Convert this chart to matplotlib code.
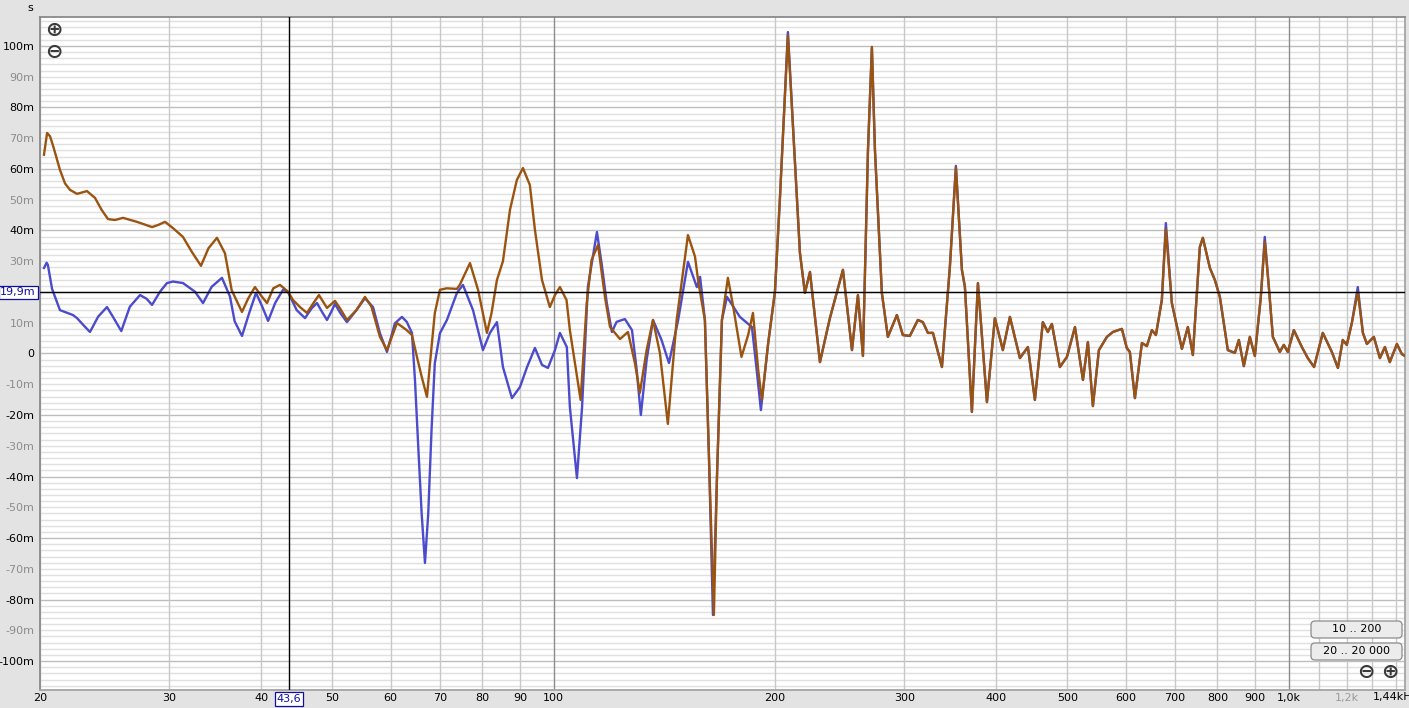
import numpy as np
import matplotlib.pyplot as plt
from matplotlib.patches import FancyBboxPatch
from matplotlib.transforms import IdentityTransform, blended_transform_factory
from matplotlib.ticker import FixedLocator, NullLocator

W, H = 1409, 708

# group delay in ms
# below 200 Hz the two traces differ
blue_lo_hz = [20.25, 20.42, 20.5, 20.77, 21.29, 21.74, 22.18, 22.46, 22.9, 23.39,
              24.0, 24.67, 25.14, 25.8, 26.5, 27.36, 27.93, 28.41, 29.13, 29.77,
              30.34, 31.3, 32.5, 33.33, 34.25, 35.37, 36.27, 36.8, 37.66, 38.5,
              39.35, 40.1, 40.87, 41.8, 42.82, 43.5, 44.7, 45.88, 46.85, 47.63,
              48.4, 49.15, 49.8, 50.39, 51.3, 52.32, 53.9, 55.36, 56.77, 58.02,
              59.31, 60.8, 62.16, 63.1, 64.14, 64.75, 65.42, 66.12, 66.81, 67.5,
              68.2, 68.9, 70.02, 71.57, 73.85, 75.25, 77.66, 80.12, 81.9, 83.71,
              85.3, 87.74, 89.97, 92.0, 94.29, 96.4, 98.21, 100.4, 101.97, 104.2,
              105.2, 107.56, 109.3, 111.3, 114.51, 116.2, 118.1, 120.0, 121.8, 125.0,
              127.8, 129.7, 131.4, 133.8, 136.5, 140.2, 143.5, 147.7, 152.3, 156.6,
              158.2, 160.6, 162.6, 164.7, 166.8, 169.4, 172.1, 179.2, 186.1, 188.9,
              191.4, 195.8, 200.0]
blue_lo_ms = [27.8, 29.5, 28.8, 21.0, 14.1, 13.3, 12.5, 11.5, 9.3, 7.0,
              12.0, 15.1, 11.9, 7.3, 15.2, 19.0, 17.8, 15.8, 20.1, 22.9,
              23.4, 22.9, 20.1, 16.4, 21.7, 24.6, 18.5, 10.5, 5.7, 13.0,
              19.7, 15.4, 10.6, 16.5, 20.7, 20.0, 14.1, 11.5, 14.7, 16.4,
              13.5, 10.9, 13.5, 16.1, 13.0, 10.2, 14.1, 18.0, 15.1, 6.6,
              0.5, 9.8, 11.9, 10.3, 6.7, -8.6, -30.3, -52.0, -68.1, -52.0,
              -24.9, -3.2, 6.6, 10.9, 19.7, 22.3, 14.1, 1.1, 6.7, 10.2,
              -4.4, -14.5, -10.9, -4.4, 1.8, -3.7, -4.7, 1.1, 6.7, 2.1,
              -17.4, -40.5, -17.4, 21.6, 39.5, 29.3, 16.4, 7.0, 10.3, 11.2,
              7.6, -5.4, -20.0, -2.1, 10.9, 4.4, -3.1, 10.9, 29.8, 21.6,
              24.9, 10.9, -32.4, -85.0, -40.0, 10.9, 18.4, 11.9, 8.6, -5.4,
              -18.4, 3.3, 20.0]

brown_lo_hz = [20.25, 20.45, 20.64, 20.85, 21.29, 21.63, 21.97, 22.46, 23.17, 23.76,
               24.26, 24.75, 25.3, 25.94, 27.1, 27.7, 28.41, 28.97, 29.59, 30.36,
               31.3, 32.17, 33.12, 33.9, 34.82, 35.7, 36.46, 37.66, 38.4, 39.22,
               39.93, 40.73, 41.54, 42.42, 43.5, 44.18, 45.16, 46.16, 47.08, 47.93,
               49.15, 50.39, 51.2, 52.32, 53.9, 55.36, 56.5, 58.02, 59.31, 61.2,
               63.1, 64.14, 65.15, 66.12, 67.23, 67.87, 68.9, 70.02, 71.5, 73.85,
               74.5, 76.93, 78.9, 81.13, 82.3, 83.71, 85.3, 87.2, 89.1, 90.82,
               92.8, 94.29, 96.4, 98.8, 100.4, 101.97, 104.1, 105.2, 108.8, 110.9,
               112.6, 114.9, 117.4, 119.3, 123.1, 126.2, 129.0, 131.0, 133.8, 136.5,
               139.5, 143.0, 147.0, 152.3, 155.7, 157.4, 160.6, 162.6, 165.2, 166.8,
               169.4, 172.6, 175.5, 180.1, 183.9, 186.7, 189.8, 192.0, 195.8, 200.0]
brown_lo_ms = [64.6, 71.7, 70.6, 67.3, 59.7, 55.3, 53.2, 51.9, 52.8, 50.6,
               46.7, 43.7, 43.4, 44.1, 42.8, 42.0, 41.1, 41.8, 42.8, 40.7,
               37.9, 33.1, 28.5, 34.2, 37.6, 32.6, 20.6, 13.5, 17.9, 21.6,
               19.0, 16.4, 21.2, 22.3, 20.1, 17.4, 15.1, 13.2, 16.3, 19.0,
               14.8, 17.1, 14.7, 10.9, 14.1, 18.4, 15.2, 5.4, 1.1, 9.9,
               7.6, 6.0, -1.1, -7.5, -14.1, -3.2, 13.1, 20.7, 21.2, 21.0,
               22.3, 29.4, 20.7, 6.7, 13.1, 23.9, 30.0, 46.7, 56.4, 60.3,
               54.8, 40.2, 23.9, 15.1, 19.0, 21.6, 17.4, 7.6, -15.1, 16.3,
               30.4, 35.3, 18.5, 8.6, 4.7, 7.0, -3.2, -12.8, 1.1, 10.9,
               0.1, -22.9, 10.9, 38.5, 31.5, 22.9, 10.9, -32.4, -85.0, -40.0,
               10.9, 24.6, 15.2, -1.1, 6.0, 13.2, -5.4, -15.1, 3.3, 20.0]

# above 200 Hz the traces sit almost on top of each other
hi_hz = [201.3, 203.1, 208.3, 214.3, 216.3, 219.7, 223.2, 230.3, 237.6, 247.5,
         254.6, 259.4, 263.5, 267.7, 271.0, 273.6, 279.6, 284.9, 293.1, 298.6,
         305.2, 313.0, 317.9, 323.0, 328.1, 337.5, 346.0, 352.6, 359.3, 362.7,
         370.7, 377.8, 388.6, 398.4, 408.5, 417.6, 430.9, 441.8, 451.6, 463.0,
         470.3, 476.3, 488.4, 499.3, 512.0, 525.0, 533.2, 541.6, 551.9, 565.9,
         576.6, 593.1, 602.3, 608.1, 617.8, 631.5, 641.4, 651.6, 659.8, 672.2,
         680.7, 693.6, 700.2, 715.8, 729.3, 740.8, 757.2, 764.4, 781.4, 793.7,
         806.2, 826.6, 845.0, 855.6, 869.0, 885.6, 899.6, 916.6, 928.0, 940.0,
         951.8, 972.8, 985.0, 997.6, 1016.5, 1042.4, 1062, 1083, 1113, 1145,
         1167, 1185, 1200, 1219, 1242, 1262, 1278, 1306, 1331, 1352,
         1373, 1404, 1426, 1440]
hi_blue_ms = [32.7, 49.9, 104.5, 49.9, 32.7, 19.7, 26.5, -2.8, 11.5, 27.2,
              1.1, 19.0, -0.8, 66.2, 99.3, 66.2, 19.7, 5.4, 12.5, 6.0,
              5.7, 10.9, 10.2, 6.7, 6.7, -4.4, 28.1, 61.0, 27.2, 21.6,
              -19.0, 22.9, -15.8, 11.5, 1.1, 11.9, -1.5, 2.1, -15.1, 10.2,
              7.0, 9.6, -4.4, -1.1, 8.6, -8.6, 3.7, -17.1, 1.1, 5.4,
              7.0, 8.0, 1.8, 0.5, -14.5, 3.4, 2.4, 7.6, 6.0, 17.4,
              42.4, 16.4, 11.9, 1.5, 8.6, -0.5, 34.6, 37.6, 27.8, 23.9,
              18.4, 1.1, 0.2, 4.4, -4.1, 5.4, -0.8, 18.4, 37.9, 21.6,
              5.4, 0.5, 2.8, 0.5, 7.6, 2.1, -1.5, -4.4, 6.7, 0.5,
              -4.7, 4.4, 2.8, 9.9, 21.6, 6.7, 3.1, 5.4, -1.5, 2.1,
              -2.8, 3.1, -0.2, -0.8]
hi_brown_ms = [32.7, 49.9, 103.4, 49.9, 32.7, 19.7, 26.5, -2.8, 11.5, 27.2,
               1.1, 19.0, -0.8, 66.2, 99.7, 66.2, 19.7, 5.4, 12.5, 6.0,
               5.7, 10.9, 10.2, 6.7, 6.7, -4.4, 28.1, 60.4, 27.2, 21.6,
               -19.0, 22.9, -15.8, 11.5, 1.1, 11.9, -1.5, 2.1, -15.1, 10.2,
               7.0, 9.6, -4.4, -1.1, 8.6, -8.6, 3.7, -17.1, 1.1, 5.4,
               7.0, 8.0, 1.8, 0.5, -14.5, 3.4, 2.4, 7.6, 6.0, 17.4,
               40.5, 16.4, 11.9, 1.5, 8.6, -0.5, 34.6, 37.6, 27.8, 23.9,
               18.4, 1.1, 0.2, 4.4, -4.1, 5.4, -0.8, 18.4, 36.3, 21.6,
               5.4, 0.5, 2.8, 0.5, 7.6, 2.1, -1.5, -4.4, 6.7, 0.5,
               -4.7, 4.4, 2.8, 9.9, 20.0, 6.7, 3.1, 5.4, -1.5, 2.1,
               -2.8, 3.1, -0.2, -0.8]

cursor_hz = 43.6
cursor_ms = 19.9

x_ticks = [20, 30, 40, 50, 60, 70, 80, 90, 100, 200, 300, 400, 500, 600, 700, 800, 900, 1000, 1200]
x_labels = ['20', '30', '40', '50', '60', '70', '80', '90', '100', '200', '300', '400',
            '500', '600', '700', '800', '900', '1,0k', '1,2k']
# 20m is covered by the cursor read-out
y_ticks = [v for v in range(-100, 101, 10) if v != 20]

BG = '#e3e3e3'
BLUE = '#4b4bcc'
BROWN = '#9a5410'

fig = plt.figure(figsize=(W / 100, H / 100), dpi=100, facecolor=BG)
ax = fig.add_axes([40 / W, 1 - 690 / H, 1365 / W, 673 / H])
ax.set_facecolor('white')
ax.set_xscale('log')
ax.set_xlim(20, 1440)
ax.set_ylim(-109.4, 109.4)

# grid, drawn by hand so the 2m / 20m and decade weights match
for v in np.arange(-108, 109, 2):
    major = (v % 20 == 0)
    ax.axhline(v, color='#bdbdbd' if major else '#e0e0e0', lw=1.0, zorder=0)
vgrid = list(range(20, 100, 10)) + list(range(100, 1000, 100)) + [1000, 1100, 1200, 1300, 1400]
for f in vgrid:
    dark = f in (100, 1000)
    ax.axvline(f, color='#8c8c8c' if dark else '#c8c8c8', lw=1.0, zorder=0)

ax.plot(blue_lo_hz + hi_hz, blue_lo_ms + hi_blue_ms, color=BLUE, lw=1.7,
        solid_joinstyle='round', zorder=3)
ax.plot(brown_lo_hz + hi_hz, brown_lo_ms + hi_brown_ms, color=BROWN, lw=1.7,
        solid_joinstyle='round', zorder=4)

# cursor
ax.axvline(cursor_hz, color='black', lw=1.0, zorder=5)
ax.axhline(cursor_ms, color='black', lw=1.0, zorder=5)

ax.xaxis.set_major_locator(FixedLocator(x_ticks))
ax.xaxis.set_minor_locator(NullLocator())
ax.set_xticklabels(x_labels)
ax.set_yticks(y_ticks)
ax.set_yticklabels(['0' if v == 0 else f'{v}m' for v in y_ticks])
ax.tick_params(which='both', length=0, labelsize=8)
ax.tick_params(axis='x', pad=2)
ax.tick_params(axis='y', pad=4)
for lab, v in zip(ax.get_yticklabels(), y_ticks):
    lab.set_color('black' if v % 20 == 0 else '#8c8c8c')
ax.get_xticklabels()[-1].set_color('#9a9a9a')

for s in ax.spines.values():
    s.set_color('#a4a4a4')
    s.set_linewidth(1.3)
ax.spines['left'].set_color('#8a8a8a')
ax.spines['top'].set_color('#8a8a8a')

# cursor read-outs
bx = dict(boxstyle='square,pad=0.15', fc='white', ec='#1010a0', lw=0.9)
ax.text(cursor_hz, -0.006, '43,6', transform=blended_transform_factory(ax.transData, ax.transAxes),
        ha='center', va='top', fontsize=8, color='#1010a0', bbox=bx, zorder=6, clip_on=False)
ax.text(-0.003, cursor_ms, '19,9m', transform=blended_transform_factory(ax.transAxes, ax.transData),
        ha='right', va='center', fontsize=8, color='#1010a0', bbox=bx, zorder=6, clip_on=False)

fig.text(1373 / W, 1 - 697 / H, '1,44kHz', ha='left', va='center', fontsize=8)
fig.text(30 / W, 1 - 8 / H, 's', ha='center', va='center', fontsize=8)

# zoom icons
for (px, py, g) in [(54, 30, '\u2295'), (54, 52, '\u2296'), (1366, 672, '\u2296'), (1390, 672, '\u2295')]:
    fig.text(px / W, 1 - py / H, g, ha='center', va='center', fontsize=15,
             color='#3a3a3a', fontweight='bold')

# range buttons
for (y0, label) in [(621, '10 .. 200'), (643, '20 .. 20 000')]:
    btn = FancyBboxPatch((1311, H - y0 - 17), 91, 17, boxstyle='round,pad=0,rounding_size=4',
                         transform=IdentityTransform(), fc='#ececec', ec='#8c8c8c', lw=0.9)
    fig.add_artist(btn)
    fig.text(1356.5 / W, 1 - (y0 + 8.5) / H, label, ha='center', va='center', fontsize=8)

fig.savefig('out.png', dpi=100, facecolor=BG)
